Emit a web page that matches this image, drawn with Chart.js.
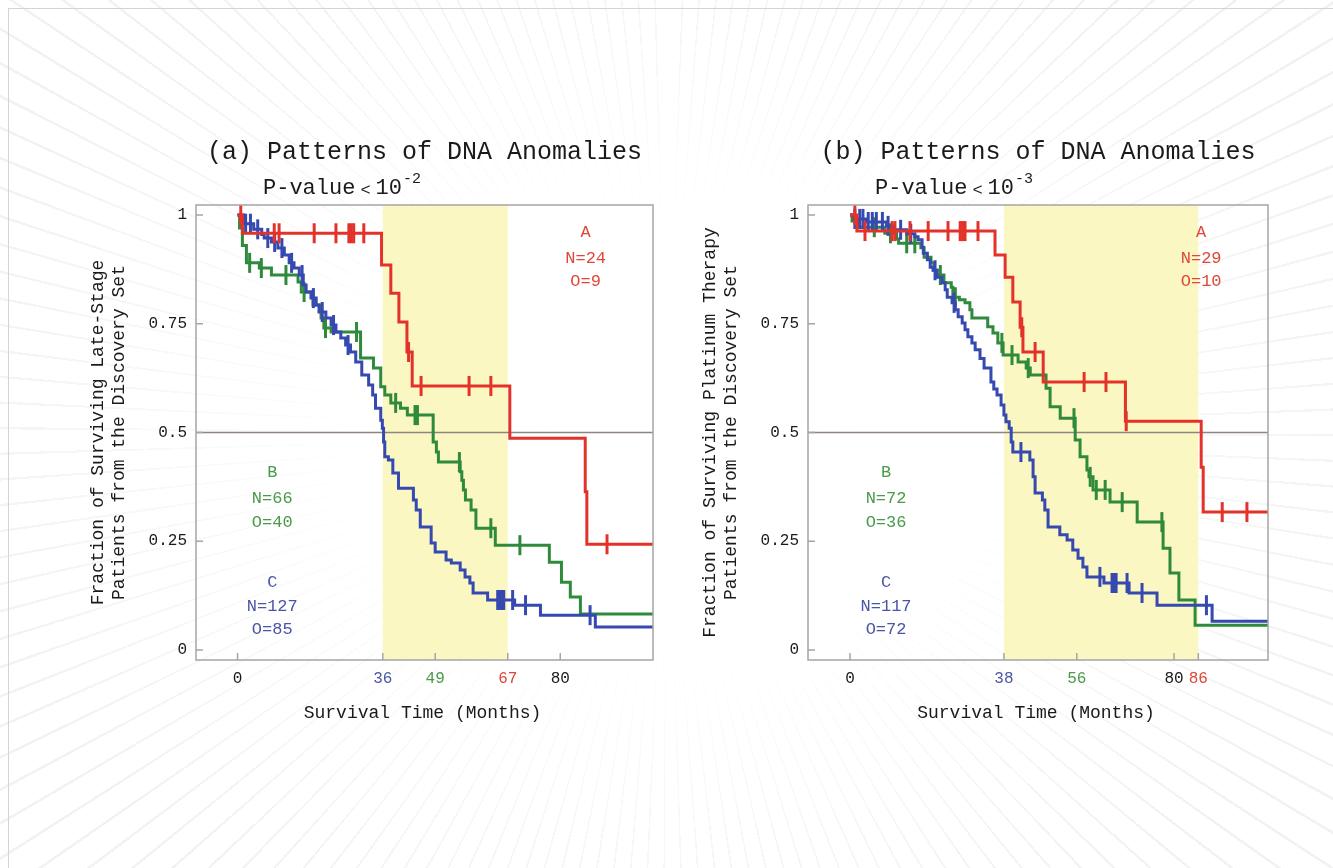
<!DOCTYPE html>
<html>
<head>
<meta charset="utf-8">
<script src="https://cdn.jsdelivr.net/npm/chart.js@4.4.1/dist/chart.umd.min.js"></script>
<style>
  html, body { margin: 0; padding: 0; }
  body {
    width: 1333px; height: 868px; overflow: hidden; position: relative;
    background:
      radial-gradient(ellipse 760px 520px at 50% 50%, rgba(255,255,255,0.95) 40%, rgba(255,255,255,0.35) 100%),
      repeating-conic-gradient(from 0deg at 50% 50%, #ffffff 0deg 2deg, #ebebeb 2deg 2.2deg);
  }
  #frame { position: absolute; left: 8px; top: 8px; width: 1340px; height: 880px; border: 1px solid #d4d4d4; }
  canvas { position: absolute; top: 0; }
  #chartA { left: 0; }
  #chartB { left: 666px; }
</style>
</head>
<body>
<div id="frame"></div>
<canvas id="chartA" width="666" height="868"></canvas>
<canvas id="chartB" width="667" height="868"></canvas>
<script>
// tick labels
const aMonthTicks = [0, 36, 49, 67, 80];
const bMonthTicks = [0, 38, 56, 80, 86];
const survTicks = [0, 0.25, 0.5, 0.75, 1];

// (a) late-stage patients
const aRedT = [0, 1.2, 35.7, 38, 40, 42, 43.3, 67.5, 86.2, 86.6];
const aRedS = [1, 0.958, 0.885, 0.82, 0.754, 0.685, 0.607, 0.487, 0.364, 0.243];
const aRedCens = [0.8, 9.1, 10.3, 19, 24.4, 27.6, 28.2, 28.8, 31.3, 42.4, 45.5, 57.4, 62.8, 91.6];

const aGreenT = [0, 0.5, 1.2, 2.2, 5.4, 8.4, 15, 15.8, 18.7, 20.7, 21.4, 23.2, 30.5, 33.7, 35.5, 36.5, 38, 40.4, 42.1, 48.5,
  49.3, 49.8, 55.2, 55.6, 56, 56.5, 57.9, 59.1, 63.9, 77.3, 80.3, 82.5, 85];
const aGreenS = [1, 0.97, 0.93, 0.89, 0.878, 0.862, 0.846, 0.823, 0.793, 0.763, 0.74, 0.731, 0.671, 0.648, 0.605, 0.586, 0.568, 0.556, 0.54, 0.478,
  0.455, 0.432, 0.41, 0.39, 0.368, 0.345, 0.322, 0.28, 0.241, 0.202, 0.156, 0.122, 0.083];
const aGreenCens = [3, 5.9, 12, 16.5, 21.8, 29.5, 39.2, 44, 44.6, 55, 62.8, 70];

const aBlueT = [0, 1.5, 4, 6, 6.6, 8.4, 10, 11.6, 12.8, 14, 15.3, 16.3, 17, 18.2, 19.5, 20.2, 21.9, 23.2, 24.4, 25.6,
  26.8, 28, 29.3, 30.8, 32.5, 33.5, 34.2, 35.5, 35.9, 36.2, 36.5, 37.4, 38.5, 39.9, 43.6, 44.3, 45.3, 48, 49,
  51.7, 53, 55.2, 56.4, 57.6, 58.4, 62, 68.7, 75.1, 88.7];
const aBlueS = [1, 0.98, 0.967, 0.955, 0.947, 0.938, 0.924, 0.908, 0.89, 0.878, 0.862, 0.839, 0.823, 0.809, 0.793, 0.777, 0.763, 0.747, 0.731, 0.717,
  0.701, 0.685, 0.662, 0.632, 0.609, 0.586, 0.556, 0.528, 0.51, 0.478, 0.444, 0.437, 0.407, 0.372, 0.345, 0.322, 0.283, 0.246, 0.225,
  0.207, 0.2, 0.184, 0.168, 0.154, 0.131, 0.115, 0.103, 0.08, 0.053];
const aBlueCens = [2, 3.2, 5, 7.5, 9.2, 11, 13.4, 16, 18.8, 21, 23.8, 27.4, 64.5, 65, 65.5, 66, 68.2, 71.4, 87.4];

// (b) platinum therapy patients
const bRedT = [0, 1.7, 35.8, 38.3, 40.2, 42, 42.7, 47.7, 68, 86.7, 87.2];
const bRedS = [1, 0.963, 0.908, 0.857, 0.8, 0.742, 0.685, 0.616, 0.526, 0.42, 0.317];
const bRedCens = [1.2, 3.7, 10.4, 11.1, 14.8, 19.3, 24.2, 27.2, 27.8, 28.4, 31.6, 42.4, 45.7, 57.8, 63.2, 68.2, 91.9, 98];

const bGreenT = [0, 0.5, 2, 8.6, 11.5, 12, 17.5, 18.3, 20, 20.7, 21.5, 23.2, 25, 25.4, 27, 28.4, 29.6, 30.1, 34, 35.3,
  36.5, 37.8, 41.5, 43.5, 44.5, 48.4, 49.4, 51.9, 55.6, 56.8, 58.5, 59, 60, 64.2, 70.9, 77.3, 79, 81.2, 85.2];
const bGreenS = [1, 0.986, 0.972, 0.958, 0.945, 0.935, 0.925, 0.903, 0.89, 0.873, 0.862, 0.844, 0.834, 0.811, 0.805, 0.798, 0.782, 0.763, 0.743, 0.729,
  0.706, 0.678, 0.662, 0.648, 0.632, 0.602, 0.559, 0.533, 0.483, 0.444, 0.414, 0.398, 0.368, 0.34, 0.294, 0.234, 0.177, 0.115, 0.057];
const bGreenCens = [6, 10, 14, 16, 22.3, 26, 37.5, 40, 44, 55.3, 59.3, 60.8, 63, 67.2, 77];

const bBlueT = [0, 1, 4, 9, 11, 14, 16, 16.8, 17.8, 18.1, 19.1, 19.8, 20.5, 21.5, 22.7, 23.5, 24, 25.2, 26, 26.7,
  27.7, 28.4, 29.1, 30.1, 30.9, 32.1, 33.1, 34.8, 35.5, 36.3, 37.3, 38, 38.5, 39.3, 39.8, 40.2, 44.4, 45.2, 45.7, 47.5,
  48.1, 48.9, 51.8, 53.6, 55, 56.3, 57.5, 58.5, 62.7, 68.9, 75.8, 89.4];
const bBlueS = [1, 0.991, 0.984, 0.975, 0.966, 0.957, 0.95, 0.943, 0.926, 0.912, 0.897, 0.88, 0.873, 0.857, 0.844, 0.828, 0.811, 0.798, 0.782, 0.766,
  0.752, 0.736, 0.72, 0.706, 0.69, 0.67, 0.648, 0.616, 0.6, 0.586, 0.563, 0.54, 0.525, 0.51, 0.478, 0.455, 0.437, 0.398, 0.361, 0.345,
  0.322, 0.283, 0.265, 0.253, 0.23, 0.211, 0.191, 0.168, 0.154, 0.131, 0.103, 0.066];
const bBlueCens = [1.2, 2.4, 3.2, 4.5, 5.5, 6.5, 8, 9.4, 12.5, 15, 21, 25.7, 42.2, 61.7, 64.7, 65.2, 65.7, 68.4, 72.1, 88];

const RED = '#e3322a', GREEN = '#2f8a3b', BLUE = '#3649b0';
const RED_TXT = '#e0473a', GREEN_TXT = '#4a9a4a', BLUE_TXT = '#4a55a6', BLACK = '#1a1a1a';
const FONT = '"Liberation Mono", "Courier New", monospace';

function survAt(v, t, s) {
  let out = s[0];
  for (let i = 0; i < t.length; i++) {
    if (t[i] <= v) out = s[i];
  }
  return out;
}

function kmLine(t, s, color, xEnd, order) {
  const pts = t.map((v, i) => ({ x: v, y: s[i] }));
  pts.push({ x: xEnd, y: s[s.length - 1] });
  return {
    data: pts, borderColor: color, borderWidth: 3, stepped: true,
    pointRadius: 0, fill: false, order: order
  };
}

function kmCens(c, t, s, color, order) {
  return {
    data: c.map(v => ({ x: v, y: survAt(v, t, s) })),
    showLine: false, pointStyle: 'line', pointRotation: 90, pointRadius: 10,
    pointBorderWidth: 3, borderColor: color, backgroundColor: color, order: order
  };
}

// yellow band, 0.5 line, frame, inner ticks and all the panel texts
const panelDeco = {
  id: 'panelDeco',
  beforeDatasetsDraw(chart, args, o) {
    const { ctx, chartArea: a, scales: { x, y } } = chart;
    ctx.save();
    const x0 = x.getPixelForValue(o.band[0]);
    const x1 = x.getPixelForValue(o.band[1]);
    ctx.fillStyle = '#fbf7c3';
    ctx.fillRect(x0, a.top, x1 - x0, a.bottom - a.top);
    const yh = y.getPixelForValue(0.5);
    ctx.strokeStyle = '#8f8383';
    ctx.lineWidth = 1.5;
    ctx.beginPath();
    ctx.moveTo(a.left, yh);
    ctx.lineTo(a.right, yh);
    ctx.stroke();
    ctx.restore();
  },
  afterDraw(chart, args, o) {
    const { ctx, chartArea: a, scales: { x, y } } = chart;
    ctx.save();
    ctx.strokeStyle = '#a5a5a5';
    ctx.lineWidth = 1.5;
    ctx.strokeRect(a.left, a.top, a.right - a.left, a.bottom - a.top);
    ctx.beginPath();
    o.xTicks.forEach(v => {
      const px = x.getPixelForValue(v);
      ctx.moveTo(px, a.bottom);
      ctx.lineTo(px, a.bottom - 7);
    });
    survTicks.forEach(v => {
      const py = y.getPixelForValue(v);
      ctx.moveTo(a.left, py);
      ctx.lineTo(a.left + 7, py);
    });
    ctx.stroke();

    const cx = (a.left + a.right) / 2;
    ctx.fillStyle = BLACK;
    ctx.textBaseline = 'middle';
    ctx.textAlign = 'center';
    ctx.font = '25px ' + FONT;
    ctx.fillText(o.title, cx, 152);

    // P-value line with superscript
    ctx.textAlign = 'left';
    let px = a.left + 67;
    ctx.font = '22px ' + FONT;
    ctx.fillText('P-value', px, 188);
    px += ctx.measureText('P-value').width + 5;
    ctx.font = '17px ' + FONT;
    ctx.fillText('<', px, 190);
    px += ctx.measureText('<').width + 5;
    ctx.font = '22px ' + FONT;
    ctx.fillText('10', px, 188);
    px += ctx.measureText('10').width + 1;
    ctx.font = '15px ' + FONT;
    ctx.fillText(o.pExp, px, 179);

    ctx.textAlign = 'center';
    ctx.font = '18px ' + FONT;
    ctx.fillText('Survival Time (Months)', cx - 2, 713);

    const cy = (a.top + a.bottom) / 2;
    o.yTitle.forEach((line, i) => {
      ctx.save();
      ctx.translate(a.left - 98 + i * 21, cy);
      ctx.rotate(-Math.PI / 2);
      ctx.fillText(line, 0, 0);
      ctx.restore();
    });

    ctx.font = '17px ' + FONT;
    o.groups.forEach(g => {
      ctx.fillStyle = g.color;
      g.lines.forEach((txt, i) => {
        ctx.fillText(txt, x.getPixelForValue(g.x), y.getPixelForValue(g.y[i]));
      });
    });
    ctx.restore();
  }
};

function makePanel(id, yWidth, padRight, xMin, xMax, ticks, tickColors, datasets, deco) {
  new Chart(document.getElementById(id), {
    type: 'line',
    data: { datasets: datasets },
    options: {
      responsive: false,
      animation: false,
      devicePixelRatio: 1,
      layout: { padding: { top: 205, right: padRight, left: 0, bottom: 0 } },
      plugins: { legend: { display: false }, tooltip: { enabled: false }, panelDeco: deco },
      scales: {
        x: {
          type: 'linear', min: xMin, max: xMax,
          grid: { display: false, drawTicks: false }, border: { display: false },
          afterBuildTicks: s => { s.ticks = ticks.map(v => ({ value: v })); },
          afterFit: s => { s.height = 208; },
          ticks: {
            autoSkip: false, maxRotation: 0, padding: 9,
            font: { family: FONT, size: 16 },
            callback: v => String(v),
            color: c => tickColors[ticks.indexOf(c.tick.value)] || BLACK
          }
        },
        y: {
          type: 'linear', min: -0.023, max: 1.023,
          grid: { display: false, drawTicks: false }, border: { display: false },
          afterBuildTicks: s => { s.ticks = survTicks.map(v => ({ value: v })); },
          afterFit: s => { s.width = yWidth; },
          ticks: { padding: 9, color: BLACK, font: { family: FONT, size: 16 }, callback: v => String(v) }
        }
      }
    },
    plugins: [panelDeco]
  });
}

const aXMax = 103, bXMax = 103.2;

makePanel('chartA', 196, 10, -10.3, aXMax, aMonthTicks, [BLACK, BLUE_TXT, GREEN_TXT, RED_TXT, BLACK], [
  kmCens(aRedCens, aRedT, aRedS, RED, 0),
  kmLine(aRedT, aRedS, RED, aXMax, 0),
  kmCens(aBlueCens, aBlueT, aBlueS, BLUE, 1),
  kmLine(aBlueT, aBlueS, BLUE, aXMax, 1),
  kmCens(aGreenCens, aGreenT, aGreenS, GREEN, 2),
  kmLine(aGreenT, aGreenS, GREEN, aXMax, 2)
], {
  title: '(a) Patterns of DNA Anomalies',
  pExp: '-2',
  band: [36, 67],
  xTicks: aMonthTicks,
  yTitle: ['Fraction of Surviving Late-Stage', 'Patients from the Discovery Set'],
  groups: [
    { color: RED_TXT, x: 86.3, y: [0.959, 0.901, 0.846], lines: ['A', 'N=24', 'O=9'] },
    { color: GREEN_TXT, x: 8.6, y: [0.407, 0.349, 0.294], lines: ['B', 'N=66', 'O=40'] },
    { color: BLUE_TXT, x: 8.6, y: [0.156, 0.099, 0.046], lines: ['C', 'N=127', 'O=85'] }
  ]
});

makePanel('chartB', 142, 65, -10.37, bXMax, bMonthTicks, [BLACK, BLUE_TXT, GREEN_TXT, BLACK, RED_TXT], [
  kmCens(bRedCens, bRedT, bRedS, RED, 0),
  kmLine(bRedT, bRedS, RED, bXMax, 0),
  kmCens(bBlueCens, bBlueT, bBlueS, BLUE, 1),
  kmLine(bBlueT, bBlueS, BLUE, bXMax, 1),
  kmCens(bGreenCens, bGreenT, bGreenS, GREEN, 2),
  kmLine(bGreenT, bGreenS, GREEN, bXMax, 2)
], {
  title: '(b) Patterns of DNA Anomalies',
  pExp: '-3',
  band: [38, 86],
  xTicks: bMonthTicks,
  yTitle: ['Fraction of Surviving Platinum Therapy', 'Patients from the Discovery Set'],
  groups: [
    { color: RED_TXT, x: 86.7, y: [0.959, 0.901, 0.846], lines: ['A', 'N=29', 'O=10'] },
    { color: GREEN_TXT, x: 8.9, y: [0.407, 0.349, 0.294], lines: ['B', 'N=72', 'O=36'] },
    { color: BLUE_TXT, x: 8.9, y: [0.156, 0.099, 0.046], lines: ['C', 'N=117', 'O=72'] }
  ]
});
</script>
</body>
</html>
